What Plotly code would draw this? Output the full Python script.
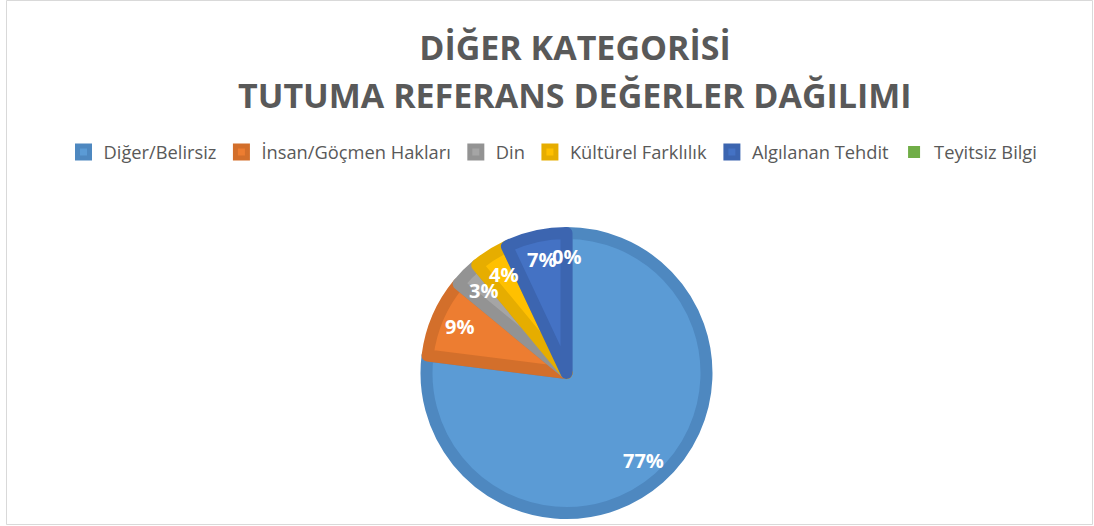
import math
import plotly.graph_objects as go

W, H = 1094, 526

categories = ["Diğer/Belirsiz", "İnsan/Göçmen Hakları", "Din", "Kültürel Farklılık",
              "Algılanan Tehdit", "Teyitsiz Bilgi"]
percent_values = [77, 9, 3, 4, 7, 0]
title_line1 = "DİĞER KATEGORİSİ"
title_line2 = "TUTUMA REFERANS DEĞERLER DAĞILIMI"

fill_colors = ["#5b9bd5", "#ed7d31", "#a5a5a5", "#ffc000", "#4472c4", "#70ad47"]
edge_colors = ["#4e88c0", "#d36f2b", "#939393", "#e6ad00", "#3c65b0", "rgba(0,0,0,0)"]

# pie geometry (pixels)
cx, cy, r = 566.5, 373, 140
edge_w = 12
outer_r = r + edge_w / 2
label_frac = 0.8
title_cx = 575

fig = go.Figure()
fig.add_trace(go.Pie(
    labels=categories,
    values=percent_values,
    sort=False,
    direction="clockwise",
    rotation=0,
    marker=dict(colors=fill_colors, line=dict(color=edge_colors, width=edge_w)),
    textinfo="none",
    domain=dict(x=[(cx - r) / W, (cx + r) / W], y=[(H - cy - r) / H, (H - cy + r) / H]),
    hoverinfo="label+percent",
))

# data labels placed at the middle angle of each slice (derived from the values)
total = sum(percent_values)
annotations = []
cum = 0.0
for v in percent_values:
    mid = (cum + v / 2) / total * 2 * math.pi
    cum += v
    px = cx + label_frac * outer_r * math.sin(mid)
    py = cy - label_frac * outer_r * math.cos(mid)
    annotations.append(dict(text=f"{v}%", x=px / W, y=1 - py / H, xref="paper", yref="paper",
                            xanchor="center", yanchor="middle", showarrow=False,
                            font=dict(family="Open Sans", size=20, color="white", weight="bold")))

annotations.append(dict(text=title_line2, x=title_cx / W, xref="paper", y=1 - 95 / H, yref="paper",
                        xanchor="center", yanchor="middle", showarrow=False,
                        font=dict(family="Open Sans", size=34, color="#595959", weight="bold")))

fig.update_layout(
    width=W, height=H,
    margin=dict(l=0, r=0, t=0, b=0),
    paper_bgcolor="white",
    plot_bgcolor="white",
    title=dict(text=title_line1, x=title_cx / W, xanchor="center", xref="paper",
               y=1 - 48 / H, yref="container", yanchor="middle",
               font=dict(family="Open Sans", size=34, color="#595959", weight="bold")),
    annotations=annotations,
    legend=dict(orientation="h", x=553 / W, xanchor="center", y=1 - 152 / H, yanchor="middle",
                font=dict(family="Open Sans", size=18.3, color="#595959"),
                itemwidth=30, traceorder="normal"),
    shapes=[dict(type="rect", xref="paper", yref="paper",
                 x0=6.5 / W, x1=1092.5 / W, y0=1.5 / H, y1=(H - 0.5) / H,
                 line=dict(color="#d9d9d9", width=1), fillcolor="rgba(0,0,0,0)")],
)

fig.write_html("out.html", config={"displayModeBar": False},
               post_script="document.body.style.margin='0';")
